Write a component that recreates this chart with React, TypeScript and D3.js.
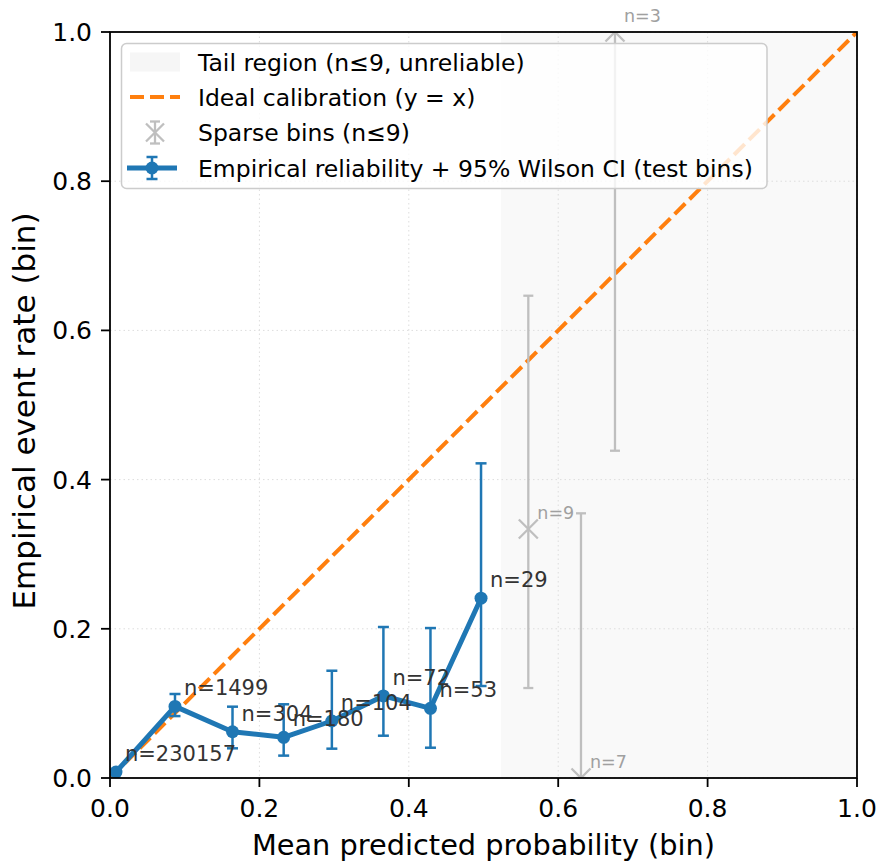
import React, { useRef, useEffect } from "react";
import * as d3 from "d3";

// test bins (n >= 10)
const binX = [0.008, 0.087, 0.164, 0.2325, 0.297, 0.366, 0.429, 0.4967];
const binRate = [0.008, 0.096, 0.062, 0.0545, 0.0764, 0.11, 0.0934, 0.241];
const binLo = [0.0065, 0.083, 0.0398, 0.03, 0.0393, 0.0567, 0.0406, 0.1233];
const binHi = [0.0095, 0.1126, 0.0956, 0.0988, 0.1438, 0.2024, 0.201, 0.4218];
const binN = [230157, 1499, 304, 180, 104, 72, 53, 29];

// sparse bins (n <= 9)
const sparseX = [0.56, 0.6305, 0.676];
const sparseRate = [0.3338, 0.0, 1.0];
const sparseLo = [0.1206, 0.0, 0.4387];
const sparseHi = [0.6465, 0.3548, 1.0];
const sparseN = [9, 7, 3];

const tailStart = 0.5234;
const ticks = [0, 0.2, 0.4, 0.6, 0.8, 1.0];

const legendLabels = [
  "Tail region (n\u22649, unreliable)",
  "Ideal calibration (y = x)",
  "Sparse bins (n\u22649)",
  "Empirical reliability + 95% Wilson CI (test bins)",
];

const W = 880;
const H = 865;
const FONT = "DejaVu Sans, sans-serif";

const drawChart = (elt: HTMLDivElement) => {
  d3.select(elt).select("svg").remove();

  const left = 110, right = 857, top = 32, bottom = 778;
  const x = d3.scaleLinear().domain([0, 1]).range([left, right]);
  const y = d3.scaleLinear().domain([0, 1]).range([bottom, top]);

  const svg = d3
    .select(elt)
    .append("svg")
    .attr("width", W)
    .attr("height", H)
    .style("display", "block")
    .style("font-family", FONT);

  svg.append("rect").attr("width", W).attr("height", H).attr("fill", "#fff");

  svg
    .append("defs")
    .append("clipPath")
    .attr("id", "plotclip")
    .append("rect")
    .attr("x", left)
    .attr("y", top)
    .attr("width", right - left)
    .attr("height", bottom - top);

  // tail region shade
  svg
    .append("rect")
    .attr("x", x(tailStart))
    .attr("y", top)
    .attr("width", x(1) - x(tailStart))
    .attr("height", bottom - top)
    .attr("fill", "#f9f9f9");

  // grid
  const grid = svg.append("g");
  ticks.forEach((t) => {
    grid.append("line")
      .attr("x1", x(t)).attr("x2", x(t)).attr("y1", top).attr("y2", bottom)
      .attr("stroke", "#dddddd").attr("stroke-width", 1).attr("stroke-dasharray", "1.5,3");
    grid.append("line")
      .attr("y1", y(t)).attr("y2", y(t)).attr("x1", left).attr("x2", right)
      .attr("stroke", "#dddddd").attr("stroke-width", 1).attr("stroke-dasharray", "1.5,3");
  });

  const plot = svg.append("g").attr("clip-path", "url(#plotclip)");

  // ideal diagonal
  plot.append("path")
    .attr("d", d3.line<number>().x((d) => x(d)).y((d) => y(d))([0, 1]))
    .attr("stroke", "#ff7f0e")
    .attr("stroke-width", 4)
    .attr("stroke-dasharray", "15,6")
    .attr("fill", "none");

  // sparse bins
  const grey = "#bfbfbf";
  sparseX.forEach((sx, i) => {
    const g = plot.append("g");
    g.append("line")
      .attr("x1", x(sx)).attr("x2", x(sx))
      .attr("y1", y(sparseLo[i])).attr("y2", y(sparseHi[i]))
      .attr("stroke", grey).attr("stroke-width", 2.3);
    [sparseLo[i], sparseHi[i]].forEach((v) => {
      g.append("line")
        .attr("x1", x(sx) - 5).attr("x2", x(sx) + 5)
        .attr("y1", y(v)).attr("y2", y(v))
        .attr("stroke", grey).attr("stroke-width", 2.3);
    });
    const cx = x(sx), cy = y(sparseRate[i]), s = 9.5;
    g.append("path")
      .attr("d", `M${cx - s},${cy - s}L${cx + s},${cy + s}M${cx - s},${cy + s}L${cx + s},${cy - s}`)
      .attr("stroke", grey).attr("stroke-width", 2.3);
  });

  // empirical bins
  const blue = "#1f77b4";
  binX.forEach((bx, i) => {
    plot.append("line")
      .attr("x1", x(bx)).attr("x2", x(bx))
      .attr("y1", y(binLo[i])).attr("y2", y(binHi[i]))
      .attr("stroke", blue).attr("stroke-width", 2.5);
    [binLo[i], binHi[i]].forEach((v) => {
      plot.append("line")
        .attr("x1", x(bx) - 5.5).attr("x2", x(bx) + 5.5)
        .attr("y1", y(v)).attr("y2", y(v))
        .attr("stroke", blue).attr("stroke-width", 2.5);
    });
  });
  const pts: [number, number][] = binX.map((bx, i) => [bx, binRate[i]]);
  plot.append("path")
    .attr("d", d3.line<[number, number]>().x((d) => x(d[0])).y((d) => y(d[1]))(pts))
    .attr("stroke", blue).attr("stroke-width", 5).attr("fill", "none")
    .attr("stroke-linejoin", "round");
  plot.selectAll("circle.pt")
    .data(pts)
    .enter()
    .append("circle")
    .attr("cx", (d) => x(d[0]))
    .attr("cy", (d) => y(d[1]))
    .attr("r", 6.5)
    .attr("fill", blue);

  // n labels
  binX.forEach((bx, i) => {
    svg.append("text")
      .attr("x", x(bx) + 9).attr("y", y(binRate[i]) - 11)
      .attr("font-size", 21).attr("fill", "#333")
      .text(`n=${binN[i]}`);
  });
  sparseX.forEach((sx, i) => {
    svg.append("text")
      .attr("x", x(sx) + 9).attr("y", y(sparseRate[i]) - 10)
      .attr("font-size", 17.5).attr("fill", "#a0a0a0")
      .text(`n=${sparseN[i]}`);
  });

  // axes
  svg.append("rect")
    .attr("x", left).attr("y", top).attr("width", right - left).attr("height", bottom - top)
    .attr("fill", "none").attr("stroke", "#000").attr("stroke-width", 1.8);

  const xAxis = svg.append("g");
  ticks.forEach((t) => {
    xAxis.append("line")
      .attr("x1", x(t)).attr("x2", x(t)).attr("y1", bottom).attr("y2", bottom + 9)
      .attr("stroke", "#000").attr("stroke-width", 1.8);
    xAxis.append("text")
      .attr("x", x(t)).attr("y", bottom + 39)
      .attr("text-anchor", "middle").attr("font-size", 25)
      .text(d3.format(".1f")(t));
  });
  const yAxis = svg.append("g");
  ticks.forEach((t) => {
    yAxis.append("line")
      .attr("x1", left - 9).attr("x2", left).attr("y1", y(t)).attr("y2", y(t))
      .attr("stroke", "#000").attr("stroke-width", 1.8);
    yAxis.append("text")
      .attr("x", left - 18).attr("y", y(t) + 9)
      .attr("text-anchor", "end").attr("font-size", 25)
      .text(d3.format(".1f")(t));
  });

  svg.append("text")
    .attr("x", (left + right) / 2).attr("y", 855)
    .attr("text-anchor", "middle").attr("font-size", 28.8)
    .text("Mean predicted probability (bin)");
  svg.append("text")
    .attr("transform", `translate(34.5,${(top + bottom) / 2 + 6}) rotate(-90)`)
    .attr("text-anchor", "middle").attr("font-size", 31)
    .text("Empirical event rate (bin)");

  // legend
  const lg = svg.append("g");
  lg.append("rect")
    .attr("x", 121.5).attr("y", 43.5).attr("width", 645.5).attr("height", 145)
    .attr("rx", 5)
    .attr("fill", "rgba(255,255,255,0.8)").attr("stroke", "#cccccc").attr("stroke-width", 1.5);
  const rows = [62, 97, 132.5, 168];
  const hx0 = 130, hx1 = 180, hxm = 155;
  lg.append("rect")
    .attr("x", hx0).attr("y", rows[0] - 9.5).attr("width", hx1 - hx0).attr("height", 19)
    .attr("fill", "#f6f6f6");
  lg.append("line")
    .attr("x1", hx0).attr("x2", hx1).attr("y1", rows[1]).attr("y2", rows[1])
    .attr("stroke", "#ff7f0e").attr("stroke-width", 4).attr("stroke-dasharray", "14,6");
  const sg = lg.append("g");
  sg.append("line").attr("x1", hxm).attr("x2", hxm).attr("y1", rows[2] - 11).attr("y2", rows[2] + 11)
    .attr("stroke", grey).attr("stroke-width", 2.3);
  [-11, 11].forEach((o) => {
    sg.append("line").attr("x1", hxm - 5).attr("x2", hxm + 5).attr("y1", rows[2] + o).attr("y2", rows[2] + o)
      .attr("stroke", grey).attr("stroke-width", 2.3);
  });
  sg.append("path")
    .attr("d", `M${hxm - 9},${rows[2] - 9}L${hxm + 9},${rows[2] + 9}M${hxm - 9},${rows[2] + 9}L${hxm + 9},${rows[2] - 9}`)
    .attr("stroke", grey).attr("stroke-width", 2.3);
  const bg = lg.append("g");
  bg.append("line").attr("x1", hx0 - 3).attr("x2", hx1 - 3).attr("y1", rows[3]).attr("y2", rows[3])
    .attr("stroke", blue).attr("stroke-width", 5);
  bg.append("line").attr("x1", hxm - 3).attr("x2", hxm - 3).attr("y1", rows[3] - 11).attr("y2", rows[3] + 11)
    .attr("stroke", blue).attr("stroke-width", 2.5);
  [-11, 11].forEach((o) => {
    bg.append("line").attr("x1", hxm - 8.5).attr("x2", hxm + 2.5).attr("y1", rows[3] + o).attr("y2", rows[3] + o)
      .attr("stroke", blue).attr("stroke-width", 2.5);
  });
  bg.append("circle").attr("cx", hxm - 3).attr("cy", rows[3]).attr("r", 6.5).attr("fill", blue);

  legendLabels.forEach((lab, i) => {
    lg.append("text")
      .attr("x", 198).attr("y", rows[i] + 8.5)
      .attr("font-size", 23.5).attr("fill", "#000")
      .text(lab);
  });
};

const App = () => {
  const ref = useRef<HTMLDivElement>(null);

  useEffect(() => {
    document.body.style.margin = "0";
    if (ref.current) {
      drawChart(ref.current);
    }
  }, []);

  return <div ref={ref} style={{ width: W, height: H }} />;
};

export default App;
